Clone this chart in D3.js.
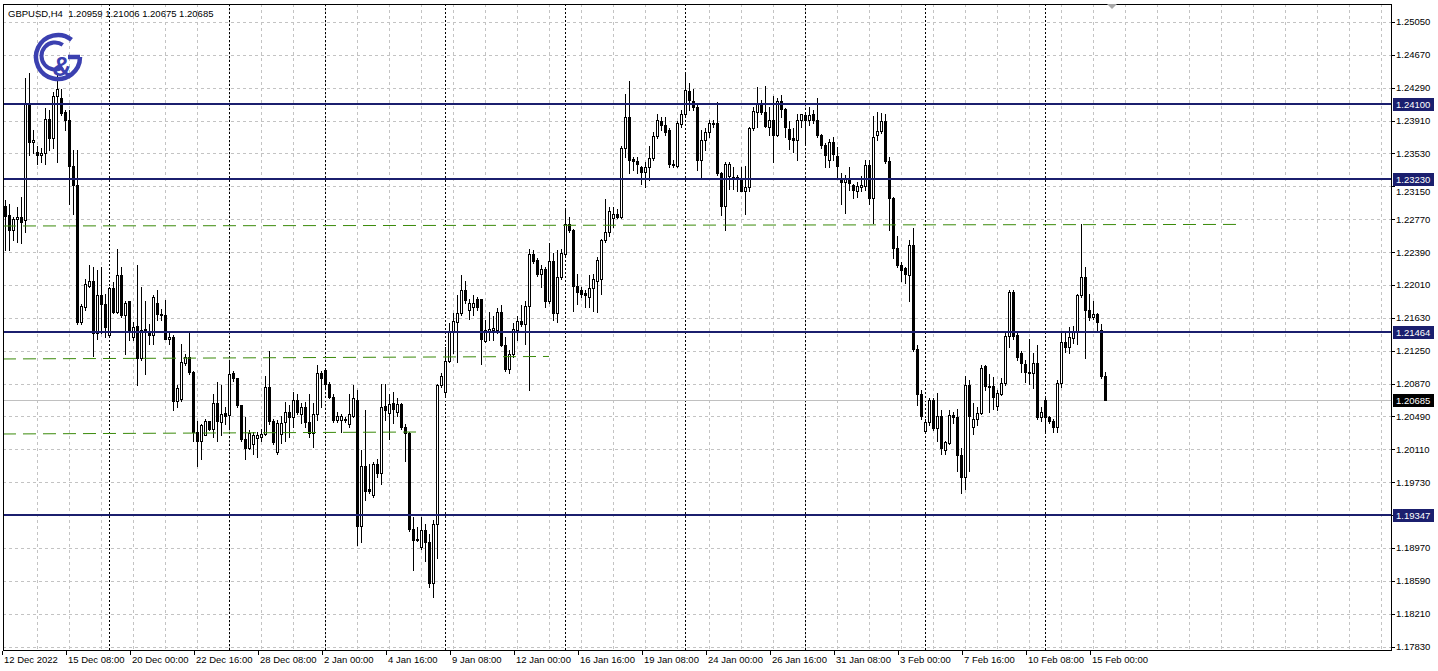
<!DOCTYPE html>
<html><head><meta charset="utf-8">
<script src="https://cdn.jsdelivr.net/npm/d3@7"></script>
<style>
html,body{margin:0;padding:0;background:#fff;}
svg{display:block;}
text{font-family:"Liberation Sans",Arial,sans-serif;}
</style></head><body>
<svg id="chart" width="1438" height="671"></svg>
<script>
// ---------------- DATA ----------------
const symbolName = "GBPUSD,H4";
const headerOHLC = [1.20959, 1.21006, 1.20675, 1.20685];
const currentPrice = 1.20685;

// time labels every 16 H4 bars, starting at bar 0 (12 Dec 2022 16:00)
const timeLabels = ["12 Dec 2022","15 Dec 08:00","20 Dec 00:00","22 Dec 16:00","28 Dec 08:00","2 Jan 00:00",
  "4 Jan 16:00","9 Jan 08:00","12 Jan 00:00","16 Jan 16:00","19 Jan 08:00","24 Jan 00:00","26 Jan 16:00",
  "31 Jan 08:00","3 Feb 00:00","7 Feb 16:00","10 Feb 08:00","15 Feb 00:00"];
// bar index of each Monday 00:00 (weekly period separators)
const weekStartBars = [26,56,80,110,140,170,200,230,260];

const priceTicks = [1.25050,1.24670,1.24290,1.23910,1.23530,1.23150,1.22770,1.22390,1.22010,1.21630,
  1.21250,1.20870,1.20490,1.20110,1.19730,1.19350,1.18970,1.18590,1.18210,1.17830];

const levelPrices = [1.24100, 1.23230, 1.21464, 1.19347];

// green dashed trend lines
const trendStartBars = [-0.5, -0.5, -0.5];
const trendStartPrices = [1.22697, 1.21160, 1.20293];
const trendEndBars = [308, 136, 103];
const trendEndPrices = [1.22715, 1.21189, 1.20316];

const opens = [
1.2292,1.2282,1.2264,1.2277,1.2280,1.2276,1.2411,1.2366,1.2355,1.2351,
1.2354,1.2393,1.2371,1.2419,1.2417,1.2401,1.2392,1.2339,1.2316,1.2158,
1.2175,1.2200,1.2206,1.2145,1.2189,1.2179,1.2143,1.2197,1.2170,1.2213,
1.2166,1.2182,1.2141,1.2153,1.2116,1.2150,1.2148,1.2143,1.2180,1.2167,
1.2166,1.2138,1.2141,1.2067,1.2069,1.2111,1.2118,1.2100,1.2031,1.2021,
1.2028,1.2044,1.2035,1.2065,1.2043,1.2053,1.2051,1.2099,1.2094,1.2062,
1.2023,1.2013,1.2017,1.2024,1.2025,1.2029,1.2083,1.2044,1.2008,1.2029,
1.2043,1.2054,1.2048,1.2068,1.2052,1.2060,1.2043,1.2030,1.2052,1.2099,
1.2103,1.2087,1.2072,1.2045,1.2045,1.2046,1.2040,1.2050,1.2068,1.1922,
1.1992,1.1965,1.1958,1.1994,1.1984,1.2061,1.2053,1.2065,1.2054,1.2063,
1.2037,1.2030,1.1919,1.1906,1.1898,1.1918,1.1904,1.1856,1.1925,1.2085,
1.2077,1.2113,1.2147,1.2158,1.2168,1.2195,1.2172,1.2176,1.2185,1.2185,
1.2136,1.2148,1.2149,1.2149,1.2170,1.2132,1.2104,1.2121,1.2149,1.2159,
1.2156,1.2177,1.2237,1.2230,1.2214,1.2219,1.2182,1.2229,1.2168,1.2210,
1.2237,1.2272,1.2264,1.2200,1.2195,1.2192,1.2187,1.2198,1.2206,1.2208,
1.2253,1.2262,1.2278,1.2283,1.2280,1.2359,1.2395,1.2346,1.2344,1.2337,
1.2331,1.2337,1.2348,1.2373,1.2391,1.2386,1.2380,1.2341,1.2339,1.2387,
1.2399,1.2425,1.2414,1.2407,1.2345,1.2368,1.2378,1.2388,1.2388,1.2330,
1.2292,1.2327,1.2326,1.2326,1.2323,1.2310,1.2314,1.2382,1.2401,1.2411,
1.2401,1.2384,1.2392,1.2374,1.2414,1.2404,1.2381,1.2371,1.2368,1.2392,
1.2397,1.2392,1.2398,1.2392,1.2374,1.2363,1.2345,1.2366,1.2350,1.2325,
1.2320,1.2325,1.2317,1.2310,1.2314,1.2315,1.2340,1.2301,1.2374,1.2379,
1.2391,1.2344,1.2301,1.2244,1.2224,1.2220,1.2213,1.2247,1.2127,1.2075,
1.2032,1.2042,1.2068,1.2036,1.2049,1.2010,1.2018,1.2051,1.2048,1.2005,
1.1979,1.2085,1.2037,1.2046,1.2053,1.2107,1.2084,1.2084,1.2061,1.2075,
1.2088,1.2142,1.2193,1.2143,1.2122,1.2110,1.2100,1.2099,1.2111,1.2048,
1.2068,1.2048,1.2044,1.2037,1.2088,1.2135,1.2129,1.2140,1.2147,1.2189,
1.2210,1.2172,1.2164,1.2167,1.2149,1.20959];
const highs = [
1.2299,1.2295,1.2280,1.2291,1.2303,1.2440,1.2446,1.2380,1.2361,1.2359,
1.2405,1.2403,1.2424,1.2446,1.2428,1.2403,1.2403,1.2357,1.2357,1.2179,
1.2208,1.2224,1.2222,1.2218,1.2222,1.2191,1.2199,1.2204,1.2242,1.2222,
1.2183,1.2183,1.2158,1.2224,1.2199,1.2183,1.2156,1.2189,1.2195,1.2173,
1.2184,1.2148,1.2143,1.2085,1.2133,1.2121,1.2146,1.2102,1.2044,1.2040,
1.2046,1.2044,1.2075,1.2089,1.2085,1.2060,1.2112,1.2102,1.2094,1.2062,
1.2048,1.2033,1.2031,1.2031,1.2035,1.2096,1.2125,1.2046,1.2045,1.2050,
1.2066,1.2062,1.2077,1.2075,1.2065,1.2066,1.2075,1.2064,1.2108,1.2102,
1.2104,1.2089,1.2075,1.2054,1.2052,1.2048,1.2075,1.2085,1.2079,1.2010,
1.2057,1.1994,1.1996,1.2000,1.2087,1.2087,1.2075,1.2077,1.2070,1.2064,
1.2040,1.2031,1.1933,1.1921,1.1933,1.1925,1.1913,1.1929,1.2087,1.2099,
1.2129,1.2157,1.2169,1.2189,1.2212,1.2205,1.2185,1.2189,1.2187,1.2185,
1.2160,1.2170,1.2165,1.2174,1.2178,1.2141,1.2126,1.2157,1.2165,1.2178,
1.2182,1.2243,1.2241,1.2232,1.2224,1.2222,1.2249,1.2238,1.2241,1.2243,
1.2288,1.2280,1.2266,1.2214,1.2199,1.2195,1.2212,1.2214,1.2233,1.2254,
1.2300,1.2291,1.2291,1.2289,1.2361,1.2422,1.2437,1.2349,1.2349,1.2339,
1.2343,1.2361,1.2378,1.2399,1.2395,1.2395,1.2382,1.2345,1.2390,1.2403,
1.2447,1.2434,1.2428,1.2411,1.2380,1.2382,1.2392,1.2392,1.2413,1.2332,
1.2343,1.2343,1.2337,1.2328,1.2337,1.2338,1.2384,1.2407,1.2430,1.2415,
1.2431,1.2407,1.2419,1.2417,1.2420,1.2405,1.2391,1.2382,1.2399,1.2399,
1.2400,1.2407,1.2403,1.2417,1.2376,1.2365,1.2370,1.2372,1.2360,1.2330,
1.2328,1.2337,1.2318,1.2320,1.2327,1.2345,1.2345,1.2396,1.2401,1.2400,
1.2399,1.2349,1.2303,1.2257,1.2228,1.2222,1.2253,1.2267,1.2131,1.2080,
1.2046,1.2070,1.2070,1.2076,1.2056,1.2021,1.2056,1.2054,1.2058,1.2012,
1.2096,1.2091,1.2064,1.2060,1.2109,1.2109,1.2098,1.2095,1.2080,1.2093,
1.2145,1.2195,1.2195,1.2145,1.2125,1.2114,1.2139,1.2122,1.2131,1.2060,
1.2070,1.2050,1.2046,1.2091,1.2145,1.2147,1.2152,1.2153,1.2191,1.2272,
1.2222,1.2191,1.2183,1.2169,1.2156,1.21006];
const lows = [
1.2241,1.2241,1.2253,1.2251,1.2249,1.2262,1.2351,1.2353,1.2341,1.2343,
1.2341,1.2357,1.2359,1.2343,1.2397,1.2380,1.2295,1.2283,1.2156,1.2156,
1.2172,1.2199,1.2119,1.2139,1.2145,1.2141,1.2141,1.2168,1.2168,1.2164,
1.2121,1.2137,1.2137,1.2085,1.2114,1.2098,1.2133,1.2133,1.2160,1.2160,
1.2138,1.2133,1.2056,1.2060,1.2067,1.2108,1.2098,1.2021,1.1992,1.2000,
1.2027,1.2033,1.2025,1.2021,1.2027,1.2040,1.2036,1.2090,1.2060,1.2021,
1.2000,1.2011,1.2006,1.2002,1.2021,1.2027,1.2040,1.2017,1.2006,1.2018,
1.2021,1.2025,1.2037,1.2052,1.2041,1.2037,1.2025,1.2014,1.2045,1.2060,
1.2083,1.2070,1.2043,1.2043,1.2031,1.2043,1.2037,1.2048,1.1900,1.1904,
1.1952,1.1960,1.1956,1.1979,1.1971,1.2045,1.2023,1.2041,1.2050,1.2035,
1.1998,1.1917,1.1871,1.1905,1.1896,1.1882,1.1852,1.1840,1.1885,1.2083,
1.2072,1.2112,1.2122,1.2112,1.2166,1.2180,1.2162,1.2166,1.2172,1.2110,
1.2135,1.2137,1.2137,1.2145,1.2130,1.2102,1.2099,1.2118,1.2137,1.2153,
1.2133,1.2079,1.2226,1.2211,1.2199,1.2176,1.2180,1.2160,1.2158,1.2208,
1.2235,1.2262,1.2171,1.2179,1.2187,1.2175,1.2175,1.2171,1.2170,1.2191,
1.2251,1.2258,1.2268,1.2278,1.2278,1.2349,1.2330,1.2334,1.2330,1.2318,
1.2314,1.2322,1.2345,1.2371,1.2380,1.2374,1.2337,1.2337,1.2337,1.2384,
1.2397,1.2403,1.2403,1.2334,1.2324,1.2357,1.2372,1.2384,1.2328,1.2282,
1.2264,1.2312,1.2312,1.2310,1.2309,1.2283,1.2310,1.2380,1.2384,1.2399,
1.2384,1.2374,1.2343,1.2373,1.2395,1.2372,1.2358,1.2355,1.2345,1.2384,
1.2365,1.2386,1.2388,1.2372,1.2359,1.2337,1.2337,1.2345,1.2325,1.2295,
1.2284,1.2311,1.2301,1.2303,1.2309,1.2311,1.2295,1.2273,1.2369,1.2377,
1.2342,1.2264,1.2232,1.2222,1.2205,1.2203,1.2183,1.2125,1.2062,1.2046,
1.2031,1.2039,1.2033,1.2021,1.2006,1.2006,1.2017,1.2041,1.1986,1.1961,
1.1965,1.1986,1.2029,1.2039,1.2052,1.2080,1.2054,1.2058,1.2056,1.2074,
1.2085,1.2129,1.2139,1.2114,1.2100,1.2089,1.2087,1.2082,1.2046,1.2044,
1.2031,1.2041,1.2031,1.2031,1.2083,1.2123,1.2122,1.2134,1.2133,1.2187,
1.2116,1.2160,1.2162,1.2147,1.2094,1.20675];
const closes = [
1.2281,1.2264,1.2277,1.2280,1.2274,1.2411,1.2366,1.2368,1.2351,1.2354,
1.2393,1.2371,1.2419,1.2428,1.2400,1.2392,1.2339,1.2316,1.2158,1.2177,
1.2202,1.2206,1.2145,1.2189,1.2179,1.2152,1.2197,1.2170,1.2212,1.2166,
1.2180,1.2148,1.2152,1.2116,1.2149,1.2148,1.2143,1.2187,1.2167,1.2166,
1.2138,1.2141,1.2067,1.2082,1.2112,1.2118,1.2100,1.2031,1.2021,1.2039,
1.2044,1.2035,1.2065,1.2044,1.2052,1.2050,1.2098,1.2094,1.2062,1.2023,
1.2013,1.2030,1.2027,1.2027,1.2029,1.2083,1.2044,1.2019,1.2041,1.2041,
1.2054,1.2048,1.2068,1.2054,1.2060,1.2043,1.2030,1.2052,1.2099,1.2093,
1.2087,1.2072,1.2045,1.2050,1.2050,1.2045,1.2052,1.2070,1.1922,1.1992,
1.1963,1.1963,1.1994,1.1984,1.2060,1.2056,1.2063,1.2058,1.2063,1.2037,
1.2030,1.1919,1.1906,1.1907,1.1918,1.1904,1.1857,1.1925,1.2085,1.2096,
1.2113,1.2147,1.2159,1.2168,1.2195,1.2184,1.2180,1.2180,1.2176,1.2138,
1.2149,1.2150,1.2151,1.2170,1.2131,1.2104,1.2121,1.2150,1.2159,1.2156,
1.2177,1.2237,1.2229,1.2214,1.2219,1.2182,1.2229,1.2168,1.2210,1.2238,
1.2272,1.2264,1.2200,1.2193,1.2191,1.2189,1.2198,1.2208,1.2230,1.2253,
1.2262,1.2287,1.2283,1.2280,1.2359,1.2395,1.2345,1.2344,1.2341,1.2331,
1.2337,1.2348,1.2373,1.2392,1.2386,1.2378,1.2341,1.2340,1.2388,1.2399,
1.2426,1.2415,1.2407,1.2345,1.2368,1.2378,1.2388,1.2387,1.2330,1.2292,
1.2341,1.2341,1.2325,1.2323,1.2310,1.2314,1.2382,1.2402,1.2411,1.2401,
1.2385,1.2392,1.2374,1.2414,1.2404,1.2384,1.2370,1.2368,1.2392,1.2398,
1.2392,1.2397,1.2392,1.2374,1.2363,1.2351,1.2366,1.2352,1.2338,1.2320,
1.2325,1.2319,1.2311,1.2315,1.2317,1.2340,1.2301,1.2372,1.2379,1.2391,
1.2344,1.2301,1.2244,1.2224,1.2218,1.2214,1.2247,1.2127,1.2075,1.2049,
1.2042,1.2068,1.2036,1.2049,1.2012,1.2020,1.2051,1.2048,1.2005,1.1979,
1.2085,1.2050,1.2046,1.2053,1.2105,1.2084,1.2083,1.2071,1.2076,1.2088,
1.2142,1.2193,1.2142,1.2118,1.2111,1.2100,1.2099,1.2111,1.2048,1.2054,
1.2048,1.2044,1.2037,1.2088,1.2135,1.2129,1.2141,1.2147,1.2189,1.2210,
1.2172,1.2164,1.2167,1.2158,1.2096,1.20685];

// ---------------- CHART ----------------
const W = 1438, H = 671;
const PL = 3, PR = 1391, PT = 4, PB = 651;
const BAR_LABEL_STEP = 16, GRID_BAR_STEP = 8;

const xScale = d3.scaleLinear().domain([-0.5, 346.5]).range([PL, PR]);
const yScale = d3.scaleLinear().domain([1.17779, 1.25257]).range([PB, PT]);
const fmt5 = d3.format(".5f");
const snap = v => Math.round(v) + 0.5;

const svg = d3.select("#chart");
svg.append("rect").attr("width", W).attr("height", H).attr("fill", "#ffffff");

svg.append("defs").append("clipPath").attr("id", "plotClip")
  .append("rect").attr("x", PL).attr("y", PT).attr("width", PR - PL).attr("height", PB - PT);
const plot = svg.append("g").attr("clip-path", "url(#plotClip)").attr("shape-rendering", "crispEdges");

// horizontal grid
plot.append("g").selectAll("line").data(priceTicks).join("line")
  .attr("x1", PL).attr("x2", PR)
  .attr("y1", d => snap(yScale(d))).attr("y2", d => snap(yScale(d)))
  .attr("stroke", "#c3c3c3").attr("stroke-dasharray", "3,3");

// vertical grid (every 8 bars)
const gridBars = d3.range(GRID_BAR_STEP, 347, GRID_BAR_STEP);
plot.append("g").selectAll("line").data(gridBars).join("line")
  .attr("x1", d => snap(xScale(d))).attr("x2", d => snap(xScale(d)))
  .attr("y1", PT).attr("y2", PB)
  .attr("stroke", "#c3c3c3").attr("stroke-dasharray", "3,3");

// weekly separators
plot.append("g").selectAll("line").data(weekStartBars).join("line")
  .attr("x1", d => snap(xScale(d))).attr("x2", d => snap(xScale(d)))
  .attr("y1", PT).attr("y2", PB)
  .attr("stroke", "#000").attr("stroke-dasharray", "2,2");

// current price line
plot.append("line").attr("x1", PL).attr("x2", PR)
  .attr("y1", snap(yScale(currentPrice))).attr("y2", snap(yScale(currentPrice)))
  .attr("stroke", "#c0c0c0");

// logo
const logoColor = "#3b40b0";
const logo = svg.append("g").attr("fill", "none").attr("stroke", logoColor);
function arcPath(cx, cy, r, a0, a1) {
  const rad = Math.PI / 180;
  const x0 = cx + r * Math.cos(a0 * rad), y0 = cy + r * Math.sin(a0 * rad);
  const x1 = cx + r * Math.cos(a1 * rad), y1 = cy + r * Math.sin(a1 * rad);
  const large = ((a1 - a0) % 360) > 180 ? 1 : 0;
  return `M${x0},${y0} A${r},${r} 0 ${large} 1 ${x1},${y1}`;
}
logo.append("path").attr("d", arcPath(58, 57, 22, 0, 308)).attr("stroke-width", 4.5);
logo.append("line").attr("x1", 80).attr("x2", 68).attr("y1", 57).attr("y2", 57).attr("stroke-width", 4.5);
logo.append("path").attr("d", arcPath(55, 56, 13.5, 55, 305)).attr("stroke-width", 4);
svg.append("text").attr("x", 62).attr("y", 76).attr("text-anchor", "middle")
  .attr("font-size", 27).attr("font-weight", "bold").attr("fill", logoColor).text("&");

// candles
const bars = d3.range(opens.length).map(i => ({i, o: opens[i], h: highs[i], l: lows[i], c: closes[i]}));
const candleG = plot.append("g");
candleG.selectAll("line.wick").data(bars).join("line").attr("class", "wick")
  .attr("x1", d => Math.round(xScale(d.i)) + 0.5).attr("x2", d => Math.round(xScale(d.i)) + 0.5)
  .attr("y1", d => Math.round(yScale(d.h))).attr("y2", d => Math.round(yScale(d.l)) + 1)
  .attr("stroke", "#000");
bars.forEach(d => {
  const cx = Math.round(xScale(d.i));
  const yo = Math.round(yScale(d.o)), yc = Math.round(yScale(d.c));
  const top = Math.min(yo, yc), bot = Math.max(yo, yc);
  if (bot - top < 1) {
    candleG.append("line").attr("x1", cx - 1).attr("x2", cx + 2)
      .attr("y1", top + 0.5).attr("y2", top + 0.5).attr("stroke", "#000");
  } else if (d.c >= d.o) {
    candleG.append("rect").attr("x", cx - 0.5).attr("y", top + 0.5)
      .attr("width", 2).attr("height", bot - top).attr("fill", "#fff").attr("stroke", "#000");
  } else {
    candleG.append("rect").attr("x", cx - 1).attr("y", top)
      .attr("width", 3).attr("height", bot - top + 1).attr("fill", "#000");
  }
});

// green trend lines
plot.append("g").selectAll("line").data(d3.range(trendStartBars.length)).join("line")
  .attr("x1", k => xScale(trendStartBars[k])).attr("x2", k => xScale(trendEndBars[k]))
  .attr("y1", k => yScale(trendStartPrices[k]) + 0.5).attr("y2", k => yScale(trendEndPrices[k]) + 0.5)
  .attr("stroke", "#3a8a0a").attr("stroke-dasharray", "13,7").attr("shape-rendering", "auto");

// horizontal level lines
const levelColor = "#1b1f6e";
plot.append("g").selectAll("line").data(levelPrices).join("line")
  .attr("x1", PL).attr("x2", PR)
  .attr("y1", d => Math.round(yScale(d))).attr("y2", d => Math.round(yScale(d)))
  .attr("stroke", levelColor).attr("stroke-width", 2);

// frame
const frame = svg.append("g").attr("stroke", "#000").attr("shape-rendering", "crispEdges");
frame.append("line").attr("x1", PL + 0.5).attr("x2", PL + 0.5).attr("y1", PT).attr("y2", PB);
frame.append("line").attr("x1", PL).attr("x2", PR).attr("y1", PT + 0.5).attr("y2", PT + 0.5);
frame.append("line").attr("x1", PR + 0.5).attr("x2", PR + 0.5).attr("y1", PT).attr("y2", PB);
frame.append("line").attr("x1", PL).attr("x2", PR + 1).attr("y1", PB - 0.5).attr("y2", PB - 0.5);

// chart shift marker
svg.append("path").attr("d", "M1107,4 L1117,4 L1112,9 Z").attr("fill", "#a8a8a8");

// price axis (tick labels; the one hidden behind a level box is nudged below it as in the reference)
const levelYs = levelPrices.map(p => Math.round(yScale(p)));
const pa = svg.append("g");
pa.selectAll("line").data(priceTicks).join("line")
  .attr("x1", PR).attr("x2", PR + 4)
  .attr("y1", d => snap(yScale(d))).attr("y2", d => snap(yScale(d)))
  .attr("stroke", "#000").attr("shape-rendering", "crispEdges");
pa.selectAll("text").data(priceTicks.filter(d => !levelYs.some(ly => Math.abs(ly - yScale(d)) < 3)))
  .join("text")
  .attr("x", PR + 5)
  .attr("y", d => {
    const y = yScale(d);
    const near = levelYs.find(ly => Math.abs(ly - y) < 12);
    return near !== undefined && y > near ? near + 6.5 + 9 : y + 3.5;
  })
  .attr("font-size", 9.5).attr("fill", "#000").text(d => fmt5(d));

// label boxes for level lines and current price
function priceBox(p, fill) {
  const y = Math.round(yScale(p));
  svg.append("rect").attr("x", PR + 2).attr("y", y - 6).attr("width", 41).attr("height", 13)
    .attr("fill", fill).attr("shape-rendering", "crispEdges");
  svg.append("text").attr("x", PR + 5).attr("y", y + 4)
    .attr("font-size", 9.5).attr("fill", "#fff").text(fmt5(p));
}
levelPrices.forEach(p => priceBox(p, levelColor));
priceBox(currentPrice, "#000");

// time axis
const labelBars = timeLabels.map((t, k) => k * BAR_LABEL_STEP);
const ta = svg.append("g");
ta.selectAll("line").data(labelBars).join("line")
  .attr("x1", d => snap(xScale(d) - 3)).attr("x2", d => snap(xScale(d) - 3))
  .attr("y1", PB).attr("y2", PB + 4)
  .attr("stroke", "#000").attr("shape-rendering", "crispEdges");
ta.selectAll("text").data(timeLabels).join("text")
  .attr("x", (t, k) => xScale(labelBars[k]) - 1).attr("y", 663)
  .attr("font-size", 9.5).attr("fill", "#000").text(t => t);

// header
svg.append("text").attr("x", 8).attr("y", 17).attr("font-size", 9.5).attr("fill", "#000")
  .style("white-space", "pre")
  .text(symbolName + "  " + headerOHLC.map(fmt5).join(" "));
</script>
</body></html>
